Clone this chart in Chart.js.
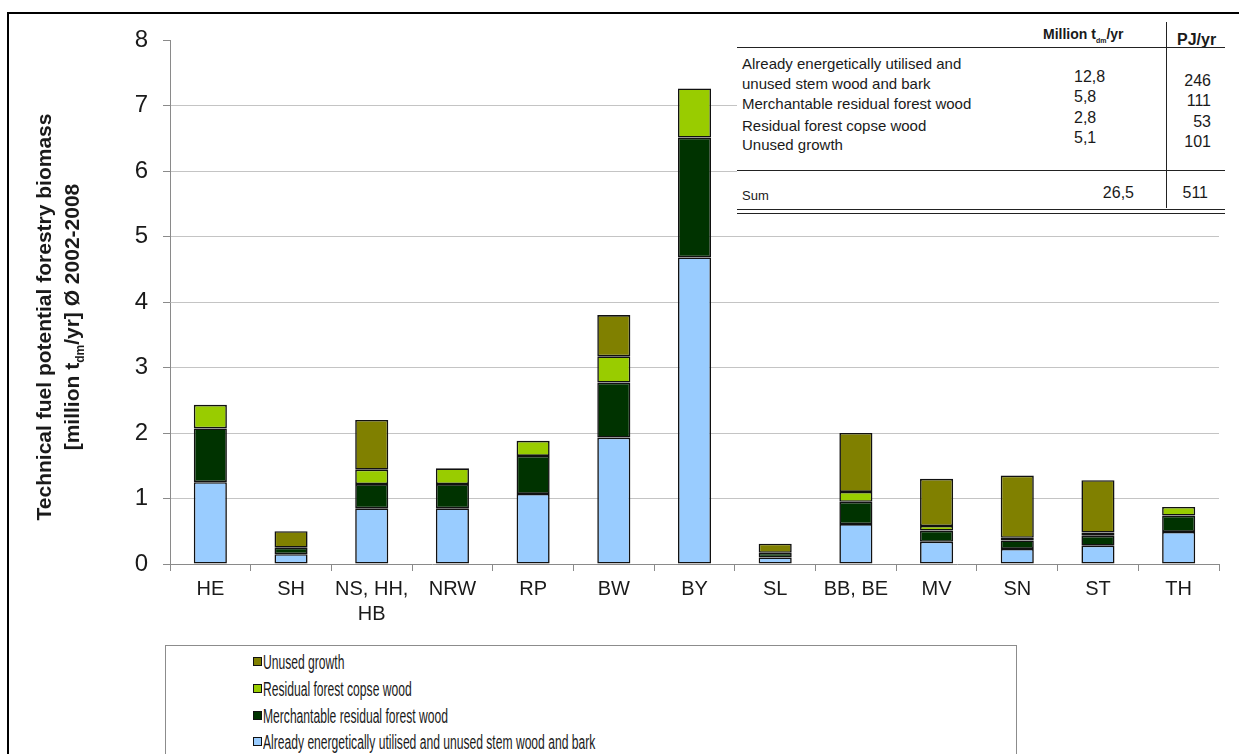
<!DOCTYPE html>
<html>
<head>
<meta charset="utf-8">
<script src="https://cdn.jsdelivr.net/npm/chart.js@4.4.1/dist/chart.umd.min.js"></script>
<style>
  html, body { margin:0; padding:0; background:#fff; width:1239px; height:754px; overflow:hidden; font-family:"Liberation Sans", Arial, sans-serif; }
  #wrap { position:absolute; left:0; top:0; width:1239px; height:640px; }
  .abs { position:absolute; white-space:nowrap; line-height:1; color:#1a1a1a; }
  #frame { position:absolute; left:7px; top:12px; width:1300px; height:800px; border:2.5px solid #000; box-sizing:border-box; }
  #table { position:absolute; left:737px; top:20px; width:490px; height:197px; background:#fff; }
  .hl { position:absolute; height:0; border-top:1.5px solid #222; }
  #ytitle { position:absolute; left:-188px; top:285px; width:500px; height:64px; transform:rotate(-90deg); transform-origin:50% 50%;
            text-align:center; font-weight:bold; font-size:21px; line-height:28px; color:#1a1a1a; }
  #legend { position:absolute; left:165px; top:645px; width:852px; height:140px; border:1px solid #8c8c8c; box-sizing:border-box; background:#fff; }
  .li { position:absolute; left:87px; height:20px; }
  .sw { position:absolute; left:0; top:5px; width:9px; height:9px; border:1px solid #111; box-sizing:border-box; }
  .lt { position:absolute; left:10px; top:0; font-size:20px; line-height:20px; white-space:nowrap; transform:scaleX(0.605); transform-origin:0 50%; color:#1a1a1a; }
</style>
</head>
<body>
<div id="frame"></div>
<div id="wrap"><canvas id="c" width="1239" height="640"></canvas></div>
<div id="ytitle">Technical fuel potential forestry biomass<br>[million t<sub style="font-size:12px">dm</sub>/yr] Ø 2002-2008</div>
<div id="table"></div>
<div id="legend"></div>
<script>
// ---- data ----
const categories = ['HE', 'SH', ['NS, HH,', 'HB'], 'NRW', 'RP', 'BW', 'BY', 'SL', 'BB, BE', 'MV', 'SN', 'ST', 'TH'];
const stemWood     = [1.25, 0.15, 0.85, 0.85, 1.07, 1.93, 4.68, 0.10, 0.61, 0.34, 0.23, 0.28, 0.49];
const merchantable = [0.82, 0.10, 0.37, 0.37, 0.58, 0.84, 1.83, 0.07, 0.34, 0.17, 0.13, 0.15, 0.25];
const copseWood    = [0.36, null, 0.22, 0.24, 0.23, 0.40, 0.75, null, 0.15, 0.07, 0.04, 0.05, 0.13];
const unusedGrowth = [null, 0.25, 0.76, null, null, 0.63, null, 0.14, 0.90, 0.72, 0.95, 0.80, null];
const yTicks = [0, 1, 2, 3, 4, 5, 6, 7, 8];

const seriesNames = [
  'Already energetically utilised and unused stem wood and bark',
  'Merchantable residual forest wood',
  'Residual forest copse wood',
  'Unused growth'
];
const seriesColors = ['#99ccff', '#003300', '#99cc00', '#808000'];

// table
const tableLabels = ['Already energetically utilised and', 'unused stem wood and bark', 'Merchantable residual forest wood', 'Residual forest copse wood', 'Unused growth'];
const tableMillion = ['12,8', '5,8', '2,8', '5,1'];
const tablePJ = ['246', '111', '53', '101'];
const tableSum = ['Sum', '26,5', '511'];

// ---- chart ----
const seriesData = [stemWood, merchantable, copseWood, unusedGrowth];
const datasets = seriesData.map((d, i) => ({
  label: seriesNames[i],
  data: d,
  backgroundColor: seriesColors[i],
  borderColor: '#111',
  borderWidth: 1.6,
  borderSkipped: false,
  categoryPercentage: 1.0,
  barPercentage: 0.41
}));

new Chart(document.getElementById('c'), {
  type: 'bar',
  data: { labels: categories, datasets: datasets },
  options: {
    responsive: false,
    animation: false,
    layout: { padding: { left: 0, right: 20, top: 40, bottom: 0 } },
    plugins: { legend: { display: false }, tooltip: { enabled: false } },
    scales: {
      x: {
        stacked: true,
        offset: true,
        grid: { display: true, drawOnChartArea: false, offset: true, tickLength: 7, color: '#8a8a8a' },
        border: { display: true, color: '#8a8a8a', width: 1 },
        ticks: { color: '#1a1a1a', padding: 6, font: { family: 'Liberation Sans', size: 20, lineHeight: 1.25 }, maxRotation: 0, autoSkip: false },
        afterFit: s => { s.height = 76; }
      },
      y: {
        stacked: true,
        min: 0, max: 8,
        afterBuildTicks: s => { s.ticks = yTicks.map(v => ({ value: v })); },
        grid: {
          color: ctx => (ctx.tick && (ctx.tick.value === 8 || ctx.tick.value === 0)) ? 'rgba(0,0,0,0)' : '#c4c4c4',
          tickColor: '#8a8a8a', tickLength: 7, lineWidth: 1
        },
        border: { display: true, color: '#8a8a8a', width: 1 },
        ticks: { color: '#1a1a1a', padding: 15, font: { family: 'Liberation Sans', size: 24 } },
        afterFit: s => { s.width = 170; }
      }
    }
  }
});

// ---- table overlay ----
const T = document.getElementById('table');
const ox = 737, oy = 20;
function txt(parent, html, x, yc, opts) {
  const e = document.createElement('div');
  e.className = 'abs';
  e.innerHTML = html;
  e.style.fontSize = (opts.size || 15) + 'px';
  if (opts.bold) e.style.fontWeight = 'bold';
  if (opts.family) e.style.fontFamily = opts.family;
  e.style.top = (yc - oy - (opts.size || 15) / 2) + 'px';
  if (opts.right !== undefined) { e.style.right = (ox + 490 - opts.right) + 'px'; }
  else e.style.left = (x - ox) + 'px';
  parent.appendChild(e);
}
function hline(y, w) {
  const e = document.createElement('div');
  e.className = 'hl';
  e.style.left = '0px'; e.style.width = '488px'; e.style.top = (y - oy) + 'px';
  if (w) e.style.borderTopWidth = w + 'px';
  T.appendChild(e);
}
txt(T, 'Million t<sub style="font-size:7px">dm</sub>/yr', 1043, 34, { size: 14, bold: true });
txt(T, 'PJ/yr', 1177, 40, { size: 16, bold: true });
hline(47, 1.5);
const labelY = [63, 83, 103, 125, 144];
tableLabels.forEach((t, i) => txt(T, t, 742, labelY[i], { size: 15 }));
const milY = [77, 97, 118, 138];
tableMillion.forEach((t, i) => txt(T, t, 1074, milY[i], { size: 16 }));
const pjY = [81, 101, 122, 142];
tablePJ.forEach((t, i) => txt(T, t, 0, pjY[i], { size: 16, right: 1211 }));
hline(170, 1.5);
txt(T, tableSum[0], 742, 195, { size: 13 });
txt(T, tableSum[1], 0, 193, { size: 16, right: 1134 });
txt(T, tableSum[2], 0, 193, { size: 16, right: 1208 });
hline(209, 1.2);
hline(213, 1.2);
const v = document.createElement('div');
v.style.cssText = 'position:absolute;left:' + (1166 - ox) + 'px;top:2px;width:0;height:186px;border-left:1.5px solid #222;';
T.appendChild(v);

// ---- legend overlay ----
const L = document.getElementById('legend');
const rowsY = [661, 688, 715, 741];
for (let k = 0; k < 4; k++) {
  const i = 3 - k;
  const r = document.createElement('div');
  r.className = 'li';
  r.style.top = (rowsY[k] - 645 - 10) + 'px';
  r.innerHTML = '<div class="sw" style="background:' + seriesColors[i] + '"></div><div class="lt">' + seriesNames[i] + '</div>';
  L.appendChild(r);
}
</script>
</body>
</html>
